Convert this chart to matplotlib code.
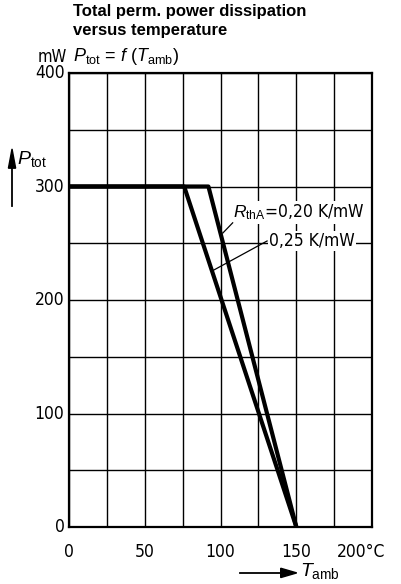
import matplotlib.pyplot as plt

# derating curves
t_020 = [0, 92, 150]
p_020 = [300, 300, 0]
t_025 = [0, 76, 150]
p_025 = [300, 300, 0]

x_ticks = [0, 50, 100, 150]
x_labels = ['0', '50', '100', '150']
y_ticks = [0, 100, 200, 300, 400]

plt.rcParams['font.family'] = ['DejaVu Sans']
plt.rcParams['font.stretch'] = 'condensed'
plt.rcParams['mathtext.fontset'] = 'custom'
plt.rcParams['mathtext.it'] = 'Liberation Sans:italic'
plt.rcParams['mathtext.rm'] = 'Liberation Sans'

fig = plt.figure(figsize=(4.01, 5.84), dpi=100)
ax = fig.add_axes([0.172, 0.0976, 0.756, 0.7774])

ax.plot(t_020, p_020, color='black', lw=3.0, solid_capstyle='butt', zorder=3)
ax.plot(t_025, p_025, color='black', lw=3.0, solid_capstyle='butt', zorder=3)

ax.set_xlim(0, 200)
ax.set_ylim(0, 400)
ax.set_xticks(range(0, 201, 25))
ax.set_yticks(range(0, 401, 50))
ax.grid(True, color='black', lw=1.0)
ax.tick_params(length=0, labelleft=False, labelbottom=False)
for s in ax.spines.values():
    s.set_linewidth(1.6)

for v in y_ticks:
    ax.text(-3, v, str(v), ha='right', va='center', fontsize=12.5, stretch='condensed')
for v, lab in zip(x_ticks, x_labels):
    ax.text(v, -14, lab, ha='center', va='top', fontsize=12.5, stretch='condensed')
ax.text(177, -14, '200°C', ha='left', va='top', fontsize=12.5, stretch='condensed')

# curve labels (white boxes hide grid)
ax.text(108, 277, r'$R_{\mathrm{thA}}$=0,20 K/mW', ha='left', va='center', fontsize=12.5,
        stretch='condensed', bbox=dict(facecolor='white', edgecolor='none', pad=1), zorder=4)
ax.text(132, 252, '0,25 K/mW', ha='left', va='center', fontsize=12.5, stretch='condensed',
        bbox=dict(facecolor='white', edgecolor='none', pad=1), zorder=4)
ax.plot([108, 101.5], [268, 259], color='black', lw=0.9, zorder=5)
ax.plot([130.7, 95], [252, 226], color='black', lw=0.9, zorder=5)

# titles
fig.text(0.182, 0.993, 'Total perm. power dissipation\nversus temperature',
         ha='left', va='top', fontsize=12, fontweight='bold', family='Liberation Sans',
         stretch='normal', linespacing=1.3)
fig.text(0.168, 0.903, 'mW', ha='right', va='center', fontsize=12, stretch='condensed')
fig.text(0.182, 0.903, r'$P_{\mathrm{tot}}$ = $f$ ($T_{\mathrm{amb}}$)', ha='left', va='center',
         fontsize=13, family='Liberation Sans')

# axis labels with arrows
fig.text(0.042, 0.728, r'$P_{\mathrm{tot}}$', ha='left', va='center', fontsize=14)
fig.add_artist(plt.Line2D([0.03, 0.03], [0.648, 0.72], color='black', lw=1.3))
fig.patches.append(plt.Polygon([[0.03, 0.745], [0.021, 0.712], [0.039, 0.712]],
                               closed=True, color='black', transform=fig.transFigure))
fig.add_artist(plt.Line2D([0.598, 0.70], [0.019, 0.019], color='black', lw=1.3))
fig.patches.append(plt.Polygon([[0.74, 0.019], [0.70, 0.027], [0.70, 0.011]],
                               closed=True, color='black', transform=fig.transFigure))
fig.text(0.748, 0.022, r'$T_{\mathrm{amb}}$', ha='left', va='center', fontsize=14)

fig.savefig('out.png', dpi=100)
